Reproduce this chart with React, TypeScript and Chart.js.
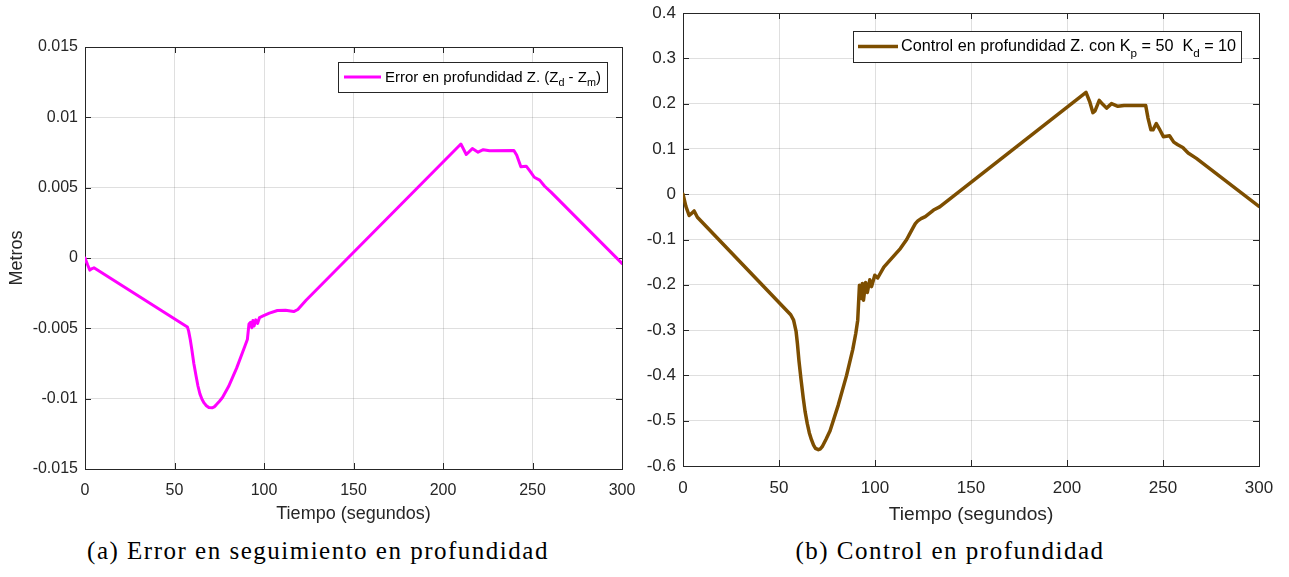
import React, { useEffect, useRef } from "react";
import { Chart, registerables } from "chart.js";

Chart.register(...registerables);

// ---------- data ----------
const errTime = [0, 1.5, 2.7, 4, 5, 56.3, 57.2, 57.9, 58.8, 59.7, 60.8, 62, 63.1, 64.2, 65.3, 66.5, 67.8, 69.2, 71, 72.2, 73.3, 75, 76.8, 80.2, 84.7, 89.3, 90.7, 91.6, 92.5, 93.2, 93.8, 94.5, 95.4, 96.4, 97.5, 99.5, 103, 107.5, 112, 116.6, 118.9, 123.5, 210, 213, 216.4, 219.6, 222.5, 226, 239.6, 241.2, 243.5, 246.5, 248.8, 251, 254, 256.8, 260.2, 300];
const errValues = [0, -0.0005, -0.00086, -0.00075, -0.0007, -0.00483, -0.0049, -0.0052, -0.0058, -0.00653, -0.0075, -0.00836, -0.0091, -0.00966, -0.01003, -0.0103, -0.0105, -0.01063, -0.01065, -0.01058, -0.01044, -0.0102, -0.00992, -0.00914, -0.00783, -0.00627, -0.0058, -0.0047, -0.00457, -0.00496, -0.00444, -0.00483, -0.0044, -0.00465, -0.00423, -0.00412, -0.00392, -0.00373, -0.00371, -0.00381, -0.00366, -0.003, 0.0081, 0.00736, 0.00778, 0.00752, 0.0077, 0.00762, 0.00765, 0.0073, 0.00648, 0.00653, 0.00614, 0.00574, 0.00554, 0.0051, 0.0047, -0.00039];

const ctrlTime = [0, 1.5, 3.2, 4.3, 5.8, 7.5, 56.1, 57.6, 58.9, 59.6, 60.4, 61.5, 62.6, 63.6, 64.7, 65.8, 66.9, 68, 69, 70.5, 71.6, 72.7, 74.5, 76.6, 80.9, 85.2, 88.4, 90, 91, 91.9, 92.8, 93.4, 94, 95.1, 96, 97.3, 98.2, 99.9, 101.4, 104.6, 109, 113.2, 116.5, 118, 119.7, 121, 122.3, 124, 126.2, 130.5, 133.7, 209.9, 211.8, 213.5, 214.6, 216.8, 218.5, 220.6, 223.2, 226.5, 229.7, 241, 242.2, 243.7, 244.8, 246.5, 248, 250.2, 253.4, 255.6, 257.7, 260.3, 263.1, 267.4, 300];
const ctrlValues = [0, -0.027, -0.047, -0.043, -0.037, -0.051, -0.266, -0.278, -0.303, -0.33, -0.368, -0.41, -0.449, -0.48, -0.506, -0.527, -0.542, -0.554, -0.561, -0.564, -0.562, -0.556, -0.541, -0.522, -0.465, -0.4, -0.343, -0.307, -0.278, -0.201, -0.23, -0.197, -0.234, -0.195, -0.217, -0.189, -0.204, -0.179, -0.185, -0.161, -0.14, -0.12, -0.1, -0.088, -0.075, -0.065, -0.059, -0.054, -0.0495, -0.035, -0.028, 0.225, 0.2045, 0.18, 0.184, 0.207, 0.199, 0.19, 0.2, 0.194, 0.196, 0.1956, 0.168, 0.142, 0.142, 0.156, 0.145, 0.127, 0.129, 0.115, 0.109, 0.103, 0.091, 0.079, -0.027];

const xRange = [0, 300];
const xStep = 50;
const errRange = [-0.015, 0.015];
const errStep = 0.005;
const ctrlRange = [-0.6, 0.4];
const ctrlStep = 0.1;

const errLegend = [
  { text: "Error en profundidad Z. (Z" },
  { text: "d", sub: true },
  { text: " - Z" },
  { text: "m", sub: true },
  { text: ")" },
];
const ctrlLegend = [
  { text: "Control en profundidad Z. con K" },
  { text: "p", sub: true },
  { text: " = 50  K" },
  { text: "d", sub: true },
  { text: " = 10" },
];

const xTitle = "Tiempo (segundos)";
const yTitleLeft = "Metros";
const captionA = "(a) Error en seguimiento en profundidad";
const captionB = "(b) Control en profundidad";

// ---------- style ----------
const FONT = '"Liberation Sans", Arial, Helvetica, sans-serif';
const AXIS = "#262626";
const GRID = "rgba(38,38,38,0.15)";

const framePlugin = {
  id: "mlFrame",
  beforeDatasetsDraw(chart: any) {
    const { ctx, chartArea: a, scales } = chart;
    const len = 6;
    ctx.save();
    ctx.strokeStyle = AXIS;
    ctx.lineWidth = 1;
    ctx.beginPath();
    for (const t of scales.x.ticks) {
      const px = Math.round(scales.x.getPixelForValue(t.value)) + 0.5;
      ctx.moveTo(px, a.bottom);
      ctx.lineTo(px, a.bottom - len);
      ctx.moveTo(px, a.top);
      ctx.lineTo(px, a.top + len);
    }
    for (const t of scales.y.ticks) {
      const py = Math.round(scales.y.getPixelForValue(t.value)) + 0.5;
      ctx.moveTo(a.left, py);
      ctx.lineTo(a.left + len, py);
      ctx.moveTo(a.right, py);
      ctx.lineTo(a.right - len, py);
    }
    ctx.stroke();
    ctx.strokeRect(
      Math.round(a.left) + 0.5,
      Math.round(a.top) + 0.5,
      Math.round(a.right - a.left),
      Math.round(a.bottom - a.top)
    );
    ctx.restore();
  },
};

const legendPlugin = {
  id: "mlLegend",
  afterDatasetsDraw(chart: any, _args: any, opts: any) {
    if (!opts || !opts.parts) return;
    const { ctx, chartArea: a } = chart;
    const fs = opts.fontSize;
    const subFs = fs * 0.72;
    const font = (s: number) => `${s}px ${FONT}`;
    ctx.save();
    const parts = opts.parts as { text: string; sub?: boolean }[];
    const widths: number[] = [];
    let tw = 0;
    for (let i = 0; i < parts.length; i++) {
      const p = parts[i];
      ctx.font = font(p.sub ? subFs : fs);
      const w = ctx.measureText(p.text).width;
      widths.push(w);
      tw += w;
    }
    const w = opts.padL + opts.lineLen + opts.gap + tw + opts.padR;
    const h = opts.height;
    const x0 = Math.round(a.right - opts.margin - w);
    const y0 = Math.round(a.top + opts.margin);
    ctx.fillStyle = "#fff";
    ctx.fillRect(x0, y0, w, h);
    ctx.strokeStyle = AXIS;
    ctx.lineWidth = 1;
    ctx.strokeRect(x0 + 0.5, y0 + 0.5, Math.round(w), h);
    const cy = y0 + h / 2;
    const ds = chart.data.datasets[0];
    ctx.strokeStyle = ds.borderColor;
    ctx.lineWidth = ds.borderWidth;
    ctx.beginPath();
    ctx.moveTo(x0 + opts.padL, cy);
    ctx.lineTo(x0 + opts.padL + opts.lineLen, cy);
    ctx.stroke();
    let x = x0 + opts.padL + opts.lineLen + opts.gap;
    const base = cy + fs * 0.3;
    ctx.fillStyle = "#000";
    ctx.textAlign = "left";
    ctx.textBaseline = "alphabetic";
    for (let i = 0; i < parts.length; i++) {
      const p = parts[i];
      ctx.font = font(p.sub ? subFs : fs);
      ctx.fillText(p.text, x, p.sub ? base + fs * 0.32 : base);
      x += widths[i];
    }
    ctx.restore();
  },
};

type Spec = {
  left: number;
  width: number;
  height: number;
  area: { left: number; right: number; top: number; bottom: number };
  time: number[];
  values: number[];
  color: string;
  lineWidth: number;
  yRange: number[];
  yStep: number;
  decimals: number;
  tickFont: number;
  titleFont: number;
  yTitle?: string;
  legend: { text: string; sub?: boolean }[];
  legendOpts: any;
  xTickPad: number;
  xTitlePadBottom: number;
};

function MatlabChart({ spec }: { spec: Spec }) {
  const ref = useRef<HTMLCanvasElement>(null);
  useEffect(() => {
    const s = spec;
    const fmt = (v: any) => {
      const n = parseFloat(Number(v).toFixed(s.decimals));
      return (Object.is(n, -0) ? 0 : n).toString();
    };
    const chart = new Chart(ref.current as HTMLCanvasElement, {
      type: "line",
      data: {
        datasets: [
          {
            data: s.time.map((t, i) => ({ x: t, y: s.values[i] })),
            borderColor: s.color,
            backgroundColor: s.color,
            borderWidth: s.lineWidth,
            pointRadius: 0,
            tension: 0,
            borderJoinStyle: "round",
            borderCapStyle: "round",
            fill: false,
          },
        ],
      },
      options: {
        responsive: false,
        animation: false,
        devicePixelRatio: 1,
        layout: {
          autoPadding: false,
          padding: {
            left: 0,
            top: s.area.top,
            right: s.width - s.area.right,
            bottom: 0,
          },
        },
        plugins: {
          legend: { display: false },
          tooltip: { enabled: false },
          mlLegend: { parts: s.legend, ...s.legendOpts },
        } as any,
        scales: {
          x: {
            type: "linear",
            min: xRange[0],
            max: xRange[1],
            ticks: {
              stepSize: xStep,
              color: AXIS,
              font: { family: FONT, size: s.tickFont },
              padding: s.xTickPad,
              maxRotation: 0,
              callback: (v: any) => fmt(v),
            },
            grid: { color: GRID, lineWidth: 1, drawTicks: false },
            border: { display: false },
            title: {
              display: true,
              text: xTitle,
              color: AXIS,
              font: { family: FONT, size: s.titleFont },
              padding: { top: 0, bottom: s.xTitlePadBottom },
            },
            afterFit: (scale: any) => {
              scale.height = s.height - s.area.bottom;
              scale.paddingLeft = 0;
              scale.paddingRight = 0;
            },
          },
          y: {
            type: "linear",
            min: s.yRange[0],
            max: s.yRange[1],
            ticks: {
              stepSize: s.yStep,
              color: AXIS,
              font: { family: FONT, size: s.tickFont },
              padding: 7,
              callback: (v: any) => fmt(v),
            },
            grid: { color: GRID, lineWidth: 1, drawTicks: false },
            border: { display: false },
            title: {
              display: !!s.yTitle,
              text: s.yTitle || "",
              color: AXIS,
              font: { family: FONT, size: s.titleFont },
              padding: { top: 6, bottom: 0 },
            },
            afterFit: (scale: any) => {
              scale.width = s.area.left;
              scale.paddingTop = 0;
              scale.paddingBottom = 0;
            },
          },
        },
      } as any,
      plugins: [framePlugin, legendPlugin],
    });
    return () => chart.destroy();
  }, []);
  return (
    <canvas
      ref={ref}
      width={spec.width}
      height={spec.height}
      style={{
        position: "absolute",
        left: spec.left,
        top: 0,
        width: spec.width,
        height: spec.height,
      }}
    />
  );
}

const leftSpec: Spec = {
  left: 0,
  width: 640,
  height: 535,
  area: { left: 85, right: 622, top: 47, bottom: 469 },
  time: errTime,
  values: errValues,
  color: "#ff00ff",
  lineWidth: 3,
  yRange: errRange,
  yStep: errStep,
  decimals: 4,
  tickFont: 16,
  titleFont: 18,
  yTitle: yTitleLeft,
  legend: errLegend,
  legendOpts: { fontSize: 15, padL: 6, lineLen: 37, gap: 4, padR: 6, height: 30, margin: 15 },
  xTickPad: 12,
  xTitlePadBottom: 10,
};

const rightSpec: Spec = {
  left: 640,
  width: 649,
  height: 535,
  area: { left: 43, right: 619, top: 13, bottom: 466 },
  time: ctrlTime,
  values: ctrlValues,
  color: "#7d4e00",
  lineWidth: 3.5,
  yRange: ctrlRange,
  yStep: ctrlStep,
  decimals: 3,
  tickFont: 17,
  titleFont: 19.2,
  legend: ctrlLegend,
  legendOpts: { fontSize: 16.2, padL: 5, lineLen: 40, gap: 3, padR: 5, height: 31, margin: 18 },
  xTickPad: 12,
  xTitlePadBottom: 8.5,
};

const captionStyle = (cx: number): React.CSSProperties => ({
  position: "absolute",
  left: cx,
  top: 536,
  transform: "translateX(-50%)",
  whiteSpace: "nowrap",
  fontFamily: '"Liberation Serif", "Times New Roman", serif',
  fontSize: 25,
  letterSpacing: "1.5px",
  lineHeight: "30px",
  color: "#000",
});

export default function App() {
  return (
    <div
      style={{
        position: "absolute",
        left: 0,
        top: 0,
        width: 1289,
        height: 577,
        background: "#fff",
        overflow: "hidden",
      }}
    >
      <MatlabChart spec={leftSpec} />
      <MatlabChart spec={rightSpec} />
      <div style={captionStyle(318)}>{captionA}</div>
      <div style={captionStyle(950)}>{captionB}</div>
    </div>
  );
}
